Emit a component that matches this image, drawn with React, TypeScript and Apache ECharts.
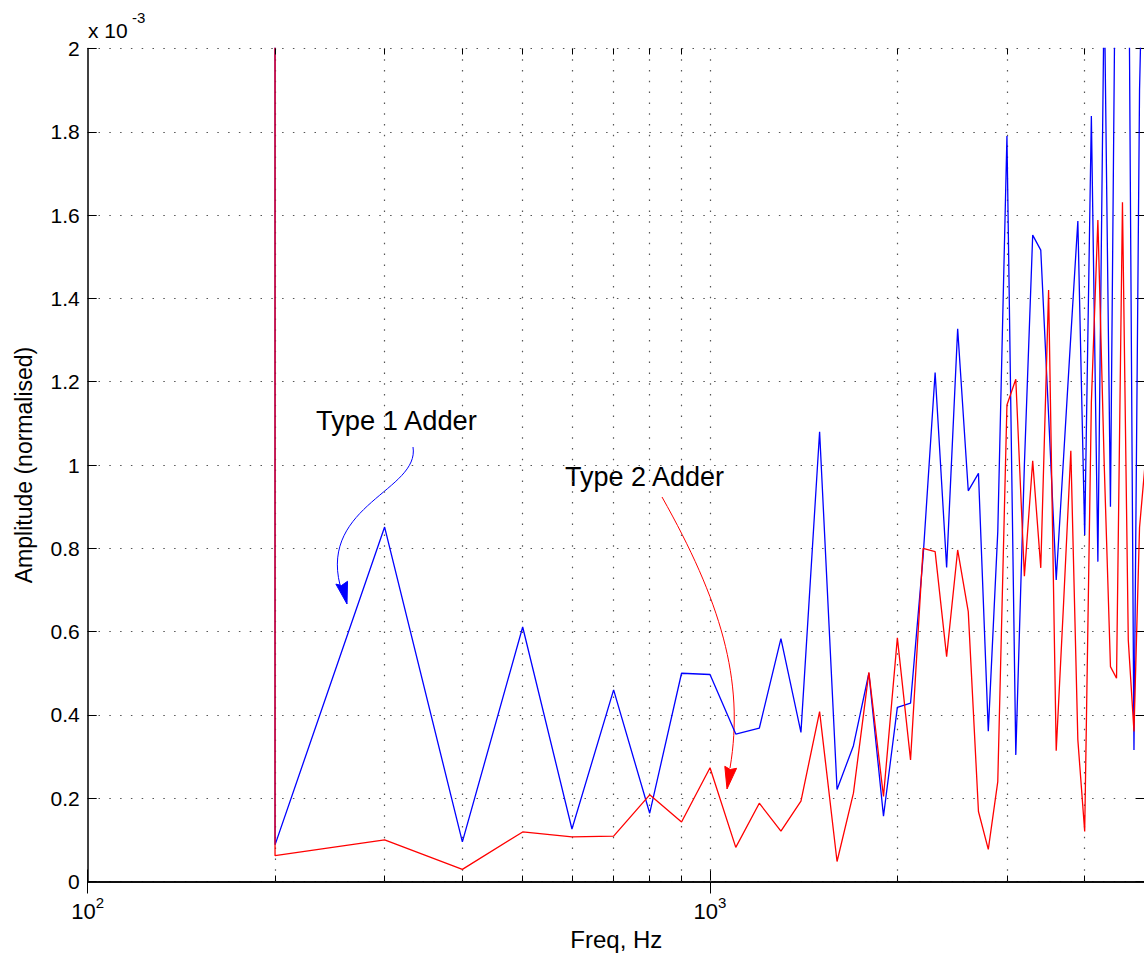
import React, { useEffect, useRef } from 'react';
import * as echarts from 'echarts';

// Harmonic frequencies (Hz)
const harmonicFreqsHz = [
  200, 300, 400, 500, 600, 700, 800, 900, 1000, 1100, 1200, 1300, 1400, 1500, 1600, 1700,
  1800, 1900, 2000, 2100, 2200, 2300, 2400, 2500, 2600, 2700, 2800, 2900, 3000, 3100, 3200,
  3300, 3400, 3500, 3600, 3700, 3800, 3900, 4000, 4100, 4200, 4300, 4400, 4500, 4600, 4700,
  4800, 4900, 5000,
];
// Amplitudes (normalised, x 10^-3)
const type1Adder = [
  0.088, 0.851, 0.095, 0.611, 0.126, 0.46, 0.164, 0.5, 0.497, 0.354, 0.368, 0.583, 0.358, 1.08,
  0.221, 0.326, 0.5, 0.157, 0.418, 0.428, 0.78, 1.222, 0.754, 1.327, 0.938, 0.98, 0.361, 0.84,
  1.79, 0.304, 1.0, 1.552, 1.516, 1.12, 0.724, 1.02, 1.31, 1.586, 0.832, 1.838, 0.768, 2.16, 0.9,
  2.57, 2.3, 2.45, 0.316, 1.9, 2.5,
];
const type2Adder = [
  0.062, 0.1, 0.029, 0.119, 0.107, 0.109, 0.208, 0.143, 0.273, 0.082, 0.188, 0.121, 0.193, 0.408,
  0.048, 0.212, 0.502, 0.204, 0.585, 0.292, 0.8, 0.792, 0.54, 0.796, 0.648, 0.168, 0.077, 0.24,
  1.144, 1.206, 0.733, 1.01, 0.753, 1.42, 0.314, 0.67, 1.034, 0.34, 0.12, 1.15, 1.588, 1.0, 0.516,
  0.488, 1.631, 0.58, 0.36, 0.85, 1.0,
];
// Off-scale fundamental at 200 Hz (drawn as the vertical line)
const fundamentalFreqHz = 200;
const fundamentalValue = 5;

const xMin = 100;
const xMax = 5000;
const yMin = 0;
const yMax = 2;
const yInterval = 0.2;
const gridFreqsHz = [200, 300, 400, 500, 600, 700, 800, 900, 1000, 2000, 3000, 4000];
const minorTickFreqsHz = [200, 300, 400, 500, 600, 700, 800, 900, 2000, 3000, 4000];

const FONT = '"Liberation Sans", Arial, Helvetica, sans-serif';

function buildOption(): any {
  const blueData = [[fundamentalFreqHz, fundamentalValue], ...harmonicFreqsHz.map((f, i) => [f, type1Adder[i]])];
  const redData = [[fundamentalFreqHz, fundamentalValue], ...harmonicFreqsHz.map((f, i) => [f, type2Adder[i]])];
  const tickLen = 0.0144;
  const minorTicks: any[] = [];
  minorTickFreqsHz.forEach((f) => {
    minorTicks.push([{ coord: [f, yMin] }, { coord: [f, yMin + tickLen] }]);
    minorTicks.push([{ coord: [f, yMax] }, { coord: [f, yMax - tickLen] }]);
  });

  const xLabelFormatter = (v: number) => {
    const e = Math.log10(v);
    if (Math.abs(e - Math.round(e)) < 1e-6) return `{b|10}{s|${Math.round(e)}}`;
    return '';
  };
  const axisLine = { show: true, lineStyle: { color: '#000', width: 1.5 } };

  return {
    animation: false,
    backgroundColor: '#fff',
    textStyle: { fontFamily: FONT },
    grid: {
      left: 87.7,
      top: 48.5,
      width: 1057.3,
      height: 833,
      show: false,
      containLabel: false,
      outerBoundsMode: 'none',
    },
    xAxis: [
      {
        type: 'log',
        logBase: 10,
        min: xMin,
        max: xMax,
        position: 'bottom',
        axisLine,
        axisTick: { show: true, inside: true, length: 12, lineStyle: { color: '#000', width: 1 } },
        splitLine: { show: false },
        axisLabel: {
          margin: 13,
          color: '#000',
          formatter: xLabelFormatter,
          rich: {
            b: { fontSize: 22, fontFamily: FONT, color: '#000' },
            s: { fontSize: 15, fontFamily: FONT, color: '#000', padding: [0, 0, 18, 0] },
          },
        },
        name: 'Freq, Hz',
        nameLocation: 'middle',
        nameGap: 46,
        nameTextStyle: { fontSize: 24, color: '#000', fontFamily: FONT },
      },
      {
        type: 'log',
        logBase: 10,
        min: xMin,
        max: xMax,
        position: 'top',
        axisLine,
        axisTick: { show: true, inside: true, length: 12, lineStyle: { color: '#000', width: 1 } },
        splitLine: { show: false },
        axisLabel: { show: false },
      },
    ],
    yAxis: [
      {
        type: 'value',
        min: yMin,
        max: yMax,
        interval: yInterval,
        position: 'left',
        axisLine,
        axisTick: { show: true, inside: true, length: 9, lineStyle: { color: '#000', width: 1 } },
        splitLine: { show: true, lineStyle: { color: '#555', width: 1.2, type: [1.5, 9.3] } },
        axisLabel: {
          margin: 8,
          fontSize: 21,
          color: '#000',
          fontFamily: FONT,
          formatter: (v: number) => String(Math.round(v * 10) / 10),
        },
        name: 'Amplitude (normalised)',
        nameLocation: 'middle',
        nameGap: 52,
        nameTextStyle: { fontSize: 23, color: '#000', fontFamily: FONT },
      },
      {
        type: 'value',
        min: yMin,
        max: yMax,
        interval: yInterval,
        position: 'right',
        axisLine,
        axisTick: { show: true, inside: true, length: 9, lineStyle: { color: '#000', width: 1 } },
        splitLine: { show: false },
        axisLabel: { show: false },
      },
    ],
    series: [
      {
        type: 'line',
        name: 'grid',
        data: [],
        silent: true,
        markLine: {
          silent: true,
          z: 1,
          symbol: ['none', 'none'],
          label: { show: false },
          lineStyle: { color: '#555', width: 1.2, type: [1.5, 9.3] },
          emphasis: { disabled: true },
          data: gridFreqsHz.map((f) => ({ xAxis: f })),
        },
      },
      {
        type: 'line',
        name: 'ticks',
        data: [],
        silent: true,
        markLine: {
          silent: true,
          symbol: ['none', 'none'],
          label: { show: false },
          lineStyle: { color: '#000', width: 1, type: 'solid' },
          emphasis: { disabled: true },
          data: minorTicks,
        },
      },
      {
        type: 'line',
        name: 'Type 1 Adder',
        data: blueData,
        showSymbol: false,
        symbol: 'none',
        clip: true,
        lineStyle: { color: '#0000ff', width: 1.3 },
        itemStyle: { color: '#0000ff' },
        z: 3,
      },
      {
        type: 'line',
        name: 'Type 2 Adder',
        data: redData,
        showSymbol: false,
        symbol: 'none',
        clip: true,
        lineStyle: { color: '#ff0000', width: 1.3 },
        itemStyle: { color: '#ff0000' },
        z: 4,
      },
    ],
    graphic: [
      {
        type: 'text',
        left: 88,
        top: 20,
        style: { text: 'x 10', font: `21px ${FONT}`, fill: '#000' },
      },
      {
        type: 'text',
        left: 132,
        top: 10,
        style: { text: '-3', font: `15px ${FONT}`, fill: '#000' },
      },
      {
        type: 'text',
        left: 316,
        top: 407,
        style: { text: 'Type 1 Adder', font: `27.3px ${FONT}`, fill: '#000' },
      },
      {
        type: 'text',
        left: 565,
        top: 463,
        style: { text: 'Type 2 Adder', font: `27px ${FONT}`, fill: '#000' },
      },
      {
        type: 'bezierCurve',
        shape: { x1: 413, y1: 447, cpx1: 420, cpy1: 490, cpx2: 320, cpy2: 505, x2: 340, y2: 585 },
        style: { stroke: '#0000ff', lineWidth: 1, fill: 'none' },
      },
      {
        type: 'polygon',
        shape: { points: [[347, 604], [335.9, 584.1], [341.5, 585.5], [347.5, 581.3]] },
        style: { fill: '#0000ff', stroke: '#0000ff', lineWidth: 1 },
      },
      {
        type: 'bezierCurve',
        shape: { x1: 662, y1: 497, cpx1: 720, cpy1: 600, cpx2: 745, cpy2: 680, x2: 730, y2: 768 },
        style: { stroke: '#ff0000', lineWidth: 1, fill: 'none' },
      },
      {
        type: 'polygon',
        shape: { points: [[727, 789], [724.8, 766.3], [730.3, 769.5], [736.6, 768.3]] },
        style: { fill: '#ff0000', stroke: '#ff0000', lineWidth: 1 },
      },
    ],
  };
}

export default function App() {
  const ref = useRef<HTMLDivElement>(null);
  useEffect(() => {
    if (!ref.current) return;
    const chart = echarts.init(ref.current, null, { renderer: 'svg' });
    chart.setOption(buildOption());
    return () => chart.dispose();
  }, []);
  return (
    <div
      ref={ref}
      style={{ position: 'absolute', left: 0, top: 0, width: 1144, height: 959, background: '#fff' }}
    />
  );
}
